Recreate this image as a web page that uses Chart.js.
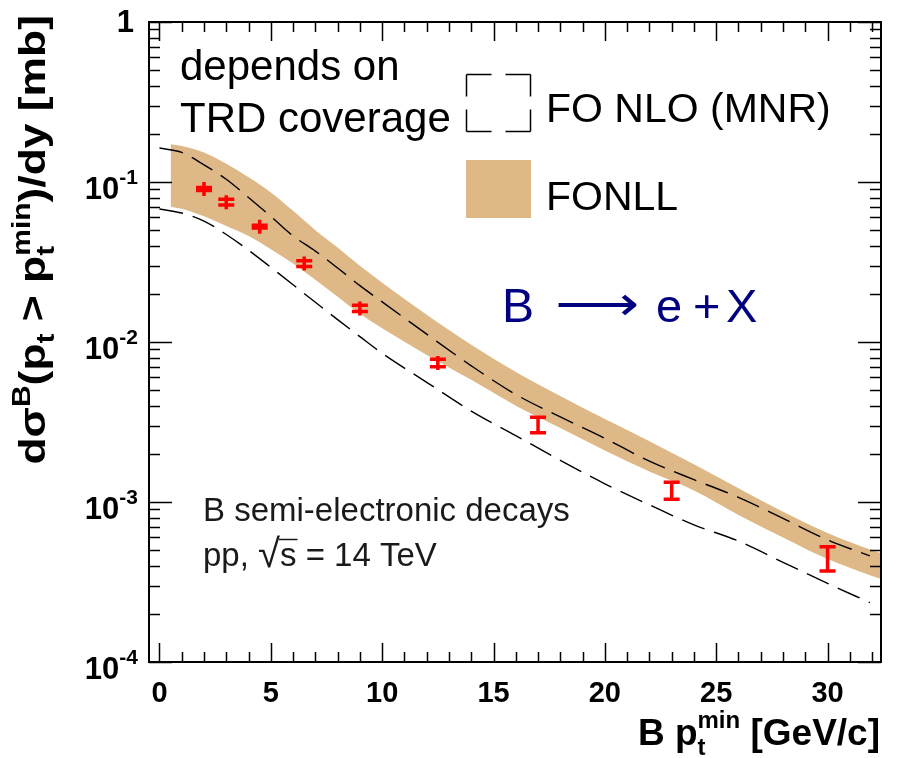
<!DOCTYPE html>
<html>
<head>
<meta charset="utf-8">
<script src="https://cdn.jsdelivr.net/npm/chart.js@4.4.1/dist/chart.umd.min.js"></script>
<style>
  html, body { margin: 0; padding: 0; background: #fff; }
  canvas { display: block; }
</style>
</head>
<body>
<canvas id="bChart" width="898" height="758"></canvas>
<script>
// FONLL band (upper / lower edge), same x grid for both
const bandX     = [0.5, 1, 2, 3, 4, 5, 6, 7, 8, 9, 10, 12, 14, 16, 18, 20, 22, 24, 26, 28, 30, 32, 32.4];
const bandUpper = [0.172, 0.168, 0.153, 0.130, 0.107, 0.086, 0.066, 0.050, 0.039, 0.030, 0.0235, 0.0148, 0.0096, 0.0065, 0.0046, 0.0033, 0.0024, 0.00172, 0.00122, 0.00087, 0.00064, 0.0005, 0.00048];
const bandLower = [0.0701, 0.068, 0.061, 0.053, 0.046, 0.038, 0.031, 0.0245, 0.0192, 0.0150, 0.0122, 0.0083, 0.0058, 0.0040, 0.0029, 0.0021, 0.00155, 0.00118, 0.00083, 0.00060, 0.00044, 0.000345, 0.00033];

// FO NLO (MNR) dashed curves
const nloX     = [0, 1, 2, 3, 4, 5, 6, 7, 8, 9, 10, 12, 14, 16, 18, 20, 22, 24, 26, 28, 30, 31.9];
const nloUpper = [0.163, 0.153, 0.128, 0.104, 0.080, 0.061, 0.046, 0.037, 0.029, 0.0225, 0.0178, 0.0112, 0.0071, 0.0047, 0.0034, 0.0025, 0.0018, 0.00138, 0.00107, 0.00079, 0.00058, 0.00046];
const nloLower = [0.0678, 0.064, 0.057, 0.047, 0.0375, 0.0293, 0.0228, 0.0177, 0.0138, 0.0108, 0.0085, 0.0056, 0.0037, 0.0026, 0.00182, 0.0013, 0.00096, 0.00072, 0.00057, 0.00042, 0.00031, 0.000235];

// measured points with asymmetric errors
const ptX    = [2, 3, 4.5, 6.5, 9, 12.5, 17, 23, 30];
const ptY    = [0.0904, 0.0747, 0.0526, 0.031, 0.0162, 0.0074, 0.00303, 0.00119, 0.00044];
const ptLow  = [0.0885, 0.0718, 0.0515, 0.0296, 0.0155, 0.00701, 0.00271, 0.00104, 0.00037];
const ptHigh = [0.0924, 0.078, 0.0537, 0.0322, 0.0170, 0.0078, 0.00338, 0.00133, 0.000526];

// axis ticks
const xMajor = [0, 5, 10, 15, 20, 25, 30];
const yMajor = [1e-4, 1e-3, 1e-2, 1e-1, 1];
const yLabels = ['-4', '-3', '-2', '-1', '1'];

const FONT = '"Liberation Sans", Arial, Helvetica, sans-serif';
const TAN = '#deb887';

const toXY = (xs, ys) => xs.map((x, i) => ({ x: x, y: ys[i] }));

// draws text runs with super/subscripts; returns width
function drawRuns(ctx, runs, x, y, align) {
    let cur = 0, prevStart = 0;
    const placed = [];
    runs.forEach(r => {
        ctx.font = r.f;
        const w = ctx.measureText(r.t).width;
        let start = r.stack ? prevStart : cur;
        placed.push({ r, start, w });
        if (r.stack) cur = Math.max(cur, start + w);
        else { prevStart = start; cur = start + w; }
    });
    const x0 = align === 'right' ? x - cur : x;
    ctx.textAlign = 'left';
    ctx.textBaseline = 'alphabetic';
    placed.forEach(p => {
        ctx.font = p.r.f;
        ctx.fillText(p.r.t, x0 + p.start, y + (p.r.dy || 0));
        p.x = x0 + p.start;
    });
    return placed;
}

const errorBars = {
    id: 'errorBars',
    afterDatasetsDraw(chart) {
        const { ctx, scales: { x, y } } = chart;
        ctx.save();
        ctx.strokeStyle = '#ff0000';
        ctx.lineWidth = 3.5;
        ptX.forEach((v, i) => {
            const px = x.getPixelForValue(v);
            const yc = y.getPixelForValue(ptY[i]);
            const yh = y.getPixelForValue(ptHigh[i]);
            const yl = y.getPixelForValue(ptLow[i]);
            ctx.beginPath();
            ctx.moveTo(px, Math.min(yh, yc - 7));
            ctx.lineTo(px, Math.max(yl, yc + 7));
            ctx.moveTo(px - 8, yh); ctx.lineTo(px + 8, yh);
            ctx.moveTo(px - 8, yl); ctx.lineTo(px + 8, yl);
            ctx.stroke();
        });
        ctx.restore();
    }
};

const frameAndText = {
    id: 'frameAndText',
    beforeDraw(chart) {
        const ctx = chart.ctx;
        ctx.save();
        ctx.fillStyle = '#fff';
        ctx.fillRect(0, 0, chart.width, chart.height);
        ctx.restore();
    },
    afterDraw(chart) {
        const { ctx, chartArea: a, scales: { x, y } } = chart;
        ctx.save();
        ctx.strokeStyle = '#000';
        ctx.fillStyle = '#000';

        // ticks (inside, all four sides)
        ctx.lineWidth = 1.5;
        ctx.beginPath();
        for (let v = 0; v <= 32; v++) {
            const px = Math.round(x.getPixelForValue(v)) + 0.5;
            const len = v % 5 === 0 ? 19 : 10;
            ctx.moveTo(px, a.bottom); ctx.lineTo(px, a.bottom - len);
            ctx.moveTo(px, a.top); ctx.lineTo(px, a.top + len);
        }
        for (let e = -4; e <= 0; e++) {
            for (let m = 1; m <= 9; m++) {
                const val = m * Math.pow(10, e);
                if (val > 1) break;
                const py = Math.round(y.getPixelForValue(val)) + 0.5;
                const len = m === 1 ? 23 : 11;
                ctx.moveTo(a.left, py); ctx.lineTo(a.left + len, py);
                ctx.moveTo(a.right, py); ctx.lineTo(a.right - len, py);
            }
        }
        ctx.stroke();

        // frame
        ctx.lineWidth = 2;
        ctx.strokeRect(a.left, a.top, a.right - a.left, a.bottom - a.top);

        // x tick labels
        ctx.font = 'bold 29px ' + FONT;
        ctx.textAlign = 'center';
        ctx.textBaseline = 'alphabetic';
        xMajor.forEach(v => ctx.fillText(String(v), x.getPixelForValue(v), 702));

        // y tick labels
        yMajor.forEach((v, i) => {
            const py = y.getPixelForValue(v);
            if (yLabels[i] === '1') {
                ctx.font = 'bold 31px ' + FONT;
                ctx.textAlign = 'right';
                ctx.fillText('1', 134, py + 10);
            } else {
                drawRuns(ctx, [
                    { t: '10', f: 'bold 31px ' + FONT, dy: 17 },
                    { t: yLabels[i], f: 'bold 21px ' + FONT, dy: 2 }
                ], 138, py, 'right');
            }
        });

        // axis titles
        const bf = s => 'bold ' + s + 'px ' + FONT;
        drawRuns(ctx, [
            { t: 'B p', f: bf(37) },
            { t: 't', f: bf(24), dy: 10 },
            { t: 'min', f: bf(24), dy: -17, stack: true },
            { t: ' [GeV/c]', f: bf(37) }
        ], 880, 745, 'right');

        ctx.save();
        ctx.translate(45, 15);
        ctx.rotate(-Math.PI / 2);
        ctx.scale(1.2, 1);
        drawRuns(ctx, [
            { t: 'd\u03c3', f: bf(37) },
            { t: 'B', f: bf(25), dy: -15 },
            { t: '(p', f: bf(37) },
            { t: 't', f: bf(25), dy: 9 },
            { t: ' > p', f: bf(37) },
            { t: 't', f: bf(25), dy: 9 },
            { t: 'min', f: bf(25), dy: -15, stack: true },
            { t: ')/dy [mb]', f: bf(37) }
        ], 0, 0, 'right');
        ctx.restore();

        // legend / annotations
        ctx.font = '42px ' + FONT;
        ctx.textAlign = 'left';
        ctx.fillText('depends on', 180, 80);
        ctx.fillText('TRD coverage', 180, 132);
        ctx.font = '41px ' + FONT;
        ctx.fillText('FO NLO (MNR)', 546, 122);
        ctx.fillText('FONLL', 546, 210);

        // dashed legend box
        ctx.lineWidth = 1.5;
        const bx = 466.5, by = 74.5, bw = 64, bh = 57;
        const side = (x1, y1, x2, y2, d) => {
            ctx.setLineDash(d);
            ctx.beginPath(); ctx.moveTo(x1, y1); ctx.lineTo(x2, y2); ctx.stroke();
        };
        side(bx, by, bx + bw, by, [25, 14]);
        side(bx, by + bh, bx + bw, by + bh, [25, 14]);
        side(bx, by, bx, by + bh, [22, 13]);
        side(bx + bw, by, bx + bw, by + bh, [22, 13]);
        ctx.setLineDash([]);

        ctx.fillStyle = TAN;
        ctx.fillRect(466, 160, 65, 58);

        // B -> e + X
        ctx.fillStyle = '#000080';
        ctx.font = '48px ' + FONT;
        ctx.fillText('B', 502, 322);
        ctx.font = '48px "DejaVu Sans", sans-serif';
        const arrow = '\u27f6';
        const aw = ctx.measureText(arrow).width;
        ctx.save();
        ctx.translate(555, 322);
        ctx.scale(84 / aw, 1);
        ctx.fillText(arrow, 0, -2);
        ctx.restore();
        ctx.font = '47px ' + FONT;
        ctx.fillText('e', 656, 322);
        ctx.fillText('+', 693, 322);
        ctx.fillText('X', 726, 322);

        // process / energy labels
        ctx.fillStyle = '#1a1a1a';
        ctx.font = '33px ' + FONT;
        ctx.fillText('B semi-electronic decays', 203, 521);
        const runs = drawRuns(ctx, [
            { t: 'pp, ', f: '33px ' + FONT },
            { t: '\u221a', f: '40px ' + FONT, dy: 1 },
            { t: 's', f: '33px ' + FONT },
            { t: ' = 14 TeV', f: '33px ' + FONT }
        ], 203, 566, 'left');
        const sRun = runs[2];
        ctx.strokeStyle = '#1a1a1a';
        ctx.lineWidth = 1.5;
        ctx.beginPath();
        ctx.moveTo(sRun.x - 1, 539.5); ctx.lineTo(sRun.x + sRun.w + 1, 539.5);
        ctx.stroke();

        ctx.restore();
    }
};

const ctx = document.getElementById('bChart').getContext('2d');
new Chart(ctx, {
    type: 'line',
    data: {
        datasets: [
            { label: 'FONLL upper', data: toXY(bandX, bandUpper), borderWidth: 0, pointRadius: 0, order: 5,
              backgroundColor: TAN, fill: '+1', borderColor: TAN, cubicInterpolationMode: 'monotone' },
            { label: 'FONLL lower', data: toXY(bandX, bandLower), borderWidth: 0, pointRadius: 0, order: 6,
              borderColor: TAN, fill: false, cubicInterpolationMode: 'monotone' },
            { label: 'FO NLO upper', data: toXY(nloX, nloUpper), borderColor: '#000', borderWidth: 1.4, order: 1,
              borderDash: [24, 10], pointRadius: 0, fill: false, cubicInterpolationMode: 'monotone' },
            { label: 'FO NLO lower', data: toXY(nloX, nloLower), borderColor: '#000', borderWidth: 1.4, order: 1,
              borderDash: [24, 10], pointRadius: 0, fill: false, cubicInterpolationMode: 'monotone' },
            { label: 'B -> e', data: toXY(ptX, ptY), showLine: false, pointRadius: 0, borderColor: '#f00', order: 0 }
        ]
    },
    options: {
        responsive: false,
        animation: false,
        layout: { padding: { left: 149, right: 17, top: 22, bottom: 96 } },
        plugins: { legend: { display: false }, tooltip: { enabled: false } },
        scales: {
            x: { type: 'linear', min: -0.47, max: 32.4, display: false },
            y: { type: 'logarithmic', min: 1e-4, max: 1, display: false }
        }
    },
    plugins: [errorBars, frameAndText]
});
</script>
</body>
</html>
